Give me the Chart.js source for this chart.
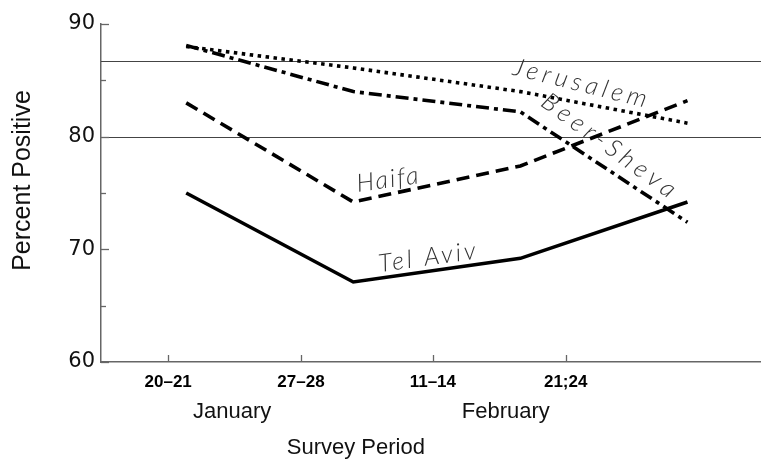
<!DOCTYPE html>
<html><head><meta charset="utf-8">
<script src="https://cdn.jsdelivr.net/npm/chart.js@4.4.1/dist/chart.umd.min.js"></script>
<style>html,body{margin:0;padding:0;background:#fff}#wrap{width:761px;height:459px}</style>
</head><body><div id="wrap"><canvas id="c" width="761" height="459"></canvas></div>
<script>
// ---- data ----
const periods = ['20\u201321', '27\u201328', '11\u201314', '21;24'];
const months = ['January', 'February'];
const cities = ['Tel Aviv', 'Haifa', 'Beer-Sheva', 'Jerusalem'];
const telAviv   = [75.0, 67.1, 69.2, 74.2];
const haifa     = [83.0, 74.2, 77.4, 83.2];
const beerSheva = [88.1, 84.0, 82.2, 72.4];
const jerusalem = [88.0, 86.1, 84.0, 81.2];
const referenceLines = [80, 86.7];
const yTicks = [60, 70, 80, 90];
const yMinorTicks = [65, 75, 85];

// where the period tick marks and month captions sit on the survey index axis
const periodTickAt = [-0.108, 0.687, 1.476, 2.271];
const monthAt = [0.275, 1.913];

const seriesValues = [telAviv, haifa, beerSheva, jerusalem];
const dashes = [[], [13, 7], [13, 5, 4, 5], [3.5, 4.5]];

const datasets = seriesValues.map((vals, k) => ({
  label: cities[k],
  data: vals.map((v, i) => ({x: i, y: v})),
  borderColor: '#000',
  backgroundColor: '#000',
  borderWidth: 3.6,
  borderDash: dashes[k],
  borderCapStyle: 'butt',
  borderJoinStyle: 'miter',
  pointRadius: 0,
  tension: 0,
  fill: false
}));

const cityLabels = [
  {text: 'Tel Aviv',   x: 1.45, y: 69.3, angle: -8,  spacing: 3},
  {text: 'Haifa',      x: 1.21, y: 76.2, angle: -8,  spacing: 2},
  {text: 'Beer-Sheva', x: 2.54, y: 79.1, angle: 36,  spacing: 5},
  {text: 'Jerusalem',  x: 2.37, y: 84.7, angle: 14,  spacing: 4.5}
];

const decor = {
  id: 'decor',
  beforeDatasetsDraw(chart) {
    const ctx = chart.ctx, ys = chart.scales.y, xs = chart.scales.x, a = chart.chartArea;
    ctx.save();
    ctx.strokeStyle = '#444';
    ctx.lineWidth = 1.2;
    referenceLines.forEach(v => {
      const y = Math.round(ys.getPixelForValue(v)) + 0.5;
      ctx.beginPath(); ctx.moveTo(a.left, y); ctx.lineTo(a.right, y); ctx.stroke();
    });
    // inward tick marks
    ctx.strokeStyle = '#666';
    ctx.lineWidth = 1.3;
    yTicks.concat(yMinorTicks).forEach(v => {
      const y = Math.round(ys.getPixelForValue(v)) + 0.5;
      const len = yTicks.includes(v) ? 8 : 5;
      ctx.beginPath(); ctx.moveTo(a.left, y); ctx.lineTo(a.left + len, y); ctx.stroke();
    });
    periodTickAt.forEach(v => {
      const x = Math.round(xs.getPixelForValue(v)) + 0.5;
      ctx.beginPath(); ctx.moveTo(x, a.bottom); ctx.lineTo(x, a.bottom - 7); ctx.stroke();
    });
    ctx.restore();
  },
  afterDatasetsDraw(chart) {
    const ctx = chart.ctx, ys = chart.scales.y, xs = chart.scales.x;
    ctx.save();
    ctx.fillStyle = '#333';
    ctx.font = 'italic 300 25px Lato, "Liberation Sans", sans-serif';
    ctx.textAlign = 'center';
    ctx.textBaseline = 'middle';
    cityLabels.forEach(l => {
      ctx.save();
      ctx.translate(xs.getPixelForValue(l.x), ys.getPixelForValue(l.y));
      ctx.rotate(l.angle * Math.PI / 180);
      ctx.letterSpacing = l.spacing + 'px';
      ctx.fillText(l.text, 0, 0);
      ctx.restore();
    });
    // x-axis title
    ctx.font = '22px "Liberation Sans", Arial, sans-serif';
    ctx.fillStyle = '#111';
    ctx.letterSpacing = '0px';
    ctx.fillText('Survey Period', xs.getPixelForValue(1.015), 448);
    ctx.restore();
  }
};

new Chart(document.getElementById('c'), {
  type: 'line',
  data: {datasets},
  options: {
    responsive: false,
    animation: false,
    devicePixelRatio: 1,
    layout: {padding: {top: 24, right: 0, left: 0, bottom: 0}},
    plugins: {legend: {display: false}, tooltip: {enabled: false}},
    scales: {
      x: {
        type: 'linear', position: 'bottom', min: -0.51, max: 3.44,
        grid: {drawOnChartArea: false, drawTicks: false},
        border: {display: true, color: '#666', width: 1.5},
        afterBuildTicks: s => { s.ticks = periodTickAt.map(v => ({value: v})); },
        afterFit: s => { s.height = 30; },
        ticks: {
          autoSkip: false, maxRotation: 0, padding: 10, color: '#000',
          font: {family: '"Liberation Sans", Arial, sans-serif', size: 17, weight: 'bold'},
          callback: (v, i) => periods[i]
        }
      },
      x2: {
        type: 'linear', axis: 'x', position: 'bottom', min: -0.51, max: 3.44,
        grid: {display: false, drawTicks: false},
        border: {display: false},
        afterBuildTicks: s => { s.ticks = monthAt.map(v => ({value: v})); },
        afterFit: s => { s.height = 67; },
        ticks: {
          autoSkip: false, maxRotation: 0, padding: 7, color: '#111',
          font: {family: '"Liberation Sans", Arial, sans-serif', size: 22},
          callback: (v, i) => months[i]
        }
      },
      y: {
        type: 'linear', min: 60, max: 90,
        grid: {drawOnChartArea: false, drawTicks: false},
        border: {display: true, color: '#666', width: 1.5},
        afterBuildTicks: s => { s.ticks = yTicks.map(v => ({value: v})); },
        afterFit: s => { s.width = 101; },
        ticks: {
          padding: 6, color: '#111',
          font: {family: '"DejaVu Sans", sans-serif', size: 21}
        },
        title: {
          display: true, text: '\u2002\u2002Percent Positive', color: '#111',
          font: {family: '"Liberation Sans", Arial, sans-serif', size: 25, lineHeight: 1.2},
          padding: {top: 8, bottom: 0}
        }
      }
    }
  },
  plugins: [decor]
});
</script>
</body></html>
